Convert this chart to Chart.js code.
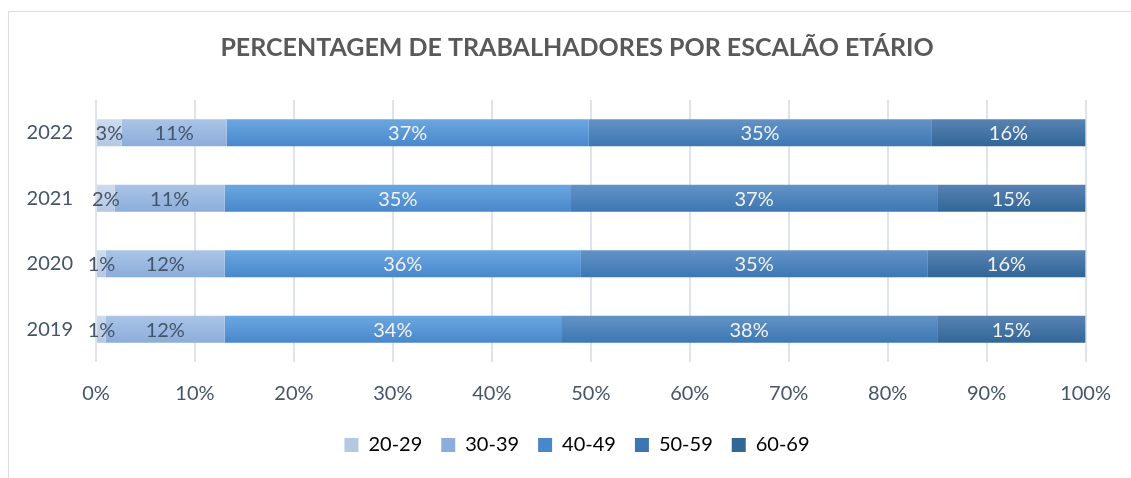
<!DOCTYPE html>
<html>
<head>
<meta charset="utf-8">
<script src="https://cdn.jsdelivr.net/npm/chart.js@4"></script>
<style>
  html, body { margin: 0; padding: 0; background: #fff; }
  #wrap { position: relative; width: 1131px; height: 478px; }
</style>
</head>
<body>
<div id="wrap"><canvas id="chart" width="1131" height="478"></canvas></div>
<script>
// Data
const years = ['2022', '2021', '2020', '2019'];
const ageGroups = ['20-29', '30-39', '40-49', '50-59', '60-69'];
const share2029 = [2.6, 1.9, 1.0, 1.0];
const share3039 = [10.6, 11.1, 12.0, 12.0];
const share4049 = [36.6, 35.0, 36.0, 34.0];
const share5059 = [34.6, 37.0, 35.0, 38.0];
const share6069 = [15.6, 15.0, 16.0, 15.0];
const xTicks = [0, 10, 20, 30, 40, 50, 60, 70, 80, 90, 100];

const seriesValues = [share2029, share3039, share4049, share5059, share6069];
// top / bottom of the vertical gradient of each series
const colors = [
  ['#cddcef', '#b4c7e3'],
  ['#a9c4e6', '#8caddb'],
  ['#6ba7e1', '#4887cb'],
  ['#6393c6', '#3d77b3'],
  ['#5883b3', '#316697']
];
const labelColors = ['#44546a', '#44546a', '#f2f2f2', '#f2f2f2', '#f2f2f2'];
const FONT = 'Lato, "Open Sans", sans-serif';

function barFill(i) {
  return (c) => {
    const y = c.chart.scales && c.chart.scales.y;
    if (!y || !c.chart.chartArea || c.dataIndex === undefined) return colors[i][0];
    const yc = y.getPixelForValue(c.dataIndex);
    const half = 13.5;
    const g = c.chart.ctx.createLinearGradient(0, yc - half, 0, yc + half);
    g.addColorStop(0, colors[i][0]);
    g.addColorStop(1, colors[i][1]);
    return g;
  };
}

// frame line on the left and top, like the original chart box
const framePlugin = {
  id: 'frame',
  beforeDraw(chart) {
    const ctx = chart.ctx;
    ctx.save();
    ctx.strokeStyle = '#dadde3';
    ctx.lineWidth = 1;
    ctx.beginPath();
    ctx.moveTo(8.5, chart.height);
    ctx.lineTo(8.5, 11.5);
    ctx.lineTo(chart.width, 11.5);
    ctx.stroke();
    ctx.restore();
  }
};

// title and legend are centred on the whole frame, not on the plot
const centreBlocks = {
  id: 'centreBlocks',
  afterLayout(chart) {
    [chart.titleBlock, chart.legend].forEach((b) => {
      if (!b) return;
      b.left = 68;
      b.right = 1086;
      b.width = b.right - b.left;
    });
  }
};

// value labels in the middle of every segment
const valueLabels = {
  id: 'valueLabels',
  afterDatasetsDraw(chart) {
    const ctx = chart.ctx;
    ctx.save();
    ctx.font = '20px ' + FONT;
    ctx.textAlign = 'center';
    ctx.textBaseline = 'middle';
    chart.data.datasets.forEach((ds, i) => {
      const meta = chart.getDatasetMeta(i);
      meta.data.forEach((bar, j) => {
        const cx = (bar.x + bar.base) / 2;
        ctx.fillStyle = labelColors[i];
        ctx.fillText(Math.round(ds.data[j]) + '%', cx, bar.y + 1);
      });
    });
    ctx.restore();
  }
};

new Chart(document.getElementById('chart'), {
  type: 'bar',
  data: {
    labels: years,
    datasets: ageGroups.map((name, i) => ({
      label: name,
      data: seriesValues[i],
      backgroundColor: barFill(i),
      borderWidth: 0,
      barPercentage: 1,
      categoryPercentage: 0.41
    }))
  },
  options: {
    indexAxis: 'y',
    responsive: false,
    animation: false,
    devicePixelRatio: 1,
    layout: { padding: { left: 20, right: 45, top: 0, bottom: 13 } },
    scales: {
      x: {
        stacked: true,
        min: 0,
        max: 100,
        afterBuildTicks: (s) => { s.ticks = xTicks.map(v => ({ value: v })); },
        afterFit: (s) => { s.height = 54; },
        grid: { color: '#dfe3ea', lineWidth: 2, drawTicks: false },
        border: { display: false },
        ticks: {
          padding: 20,
          maxRotation: 0,
          color: '#44546a',
          font: { family: FONT, size: 20 },
          callback: (v) => v + '%'
        }
      },
      y: {
        stacked: true,
        afterFit: (s) => { s.width = 76; },
        grid: { display: false, drawTicks: false },
        border: { display: false },
        ticks: {
          padding: 23,
          color: '#44546a',
          font: { family: FONT, size: 20 }
        }
      }
    },
    plugins: {
      title: {
        display: true,
        text: 'PERCENTAGEM DE TRABALHADORES POR ESCALÃO ETÁRIO',
        color: '#595959',
        font: { family: FONT, size: 25, weight: 'bold' },
        padding: { top: 33, bottom: 37 }
      },
      legend: {
        position: 'bottom',
        labels: {
          boxWidth: 14,
          boxHeight: 14,
          padding: 19,
          color: '#44546a',
          font: { family: FONT, size: 20 },
          generateLabels: (chart) => chart.data.datasets.map((ds, i) => ({
            text: ds.label,
            fillStyle: colors[i][1],
            strokeStyle: colors[i][1],
            lineWidth: 0,
            datasetIndex: i
          }))
        }
      },
      tooltip: { enabled: false }
    }
  },
  plugins: [framePlugin, centreBlocks, valueLabels]
});
</script>
</body>
</html>
